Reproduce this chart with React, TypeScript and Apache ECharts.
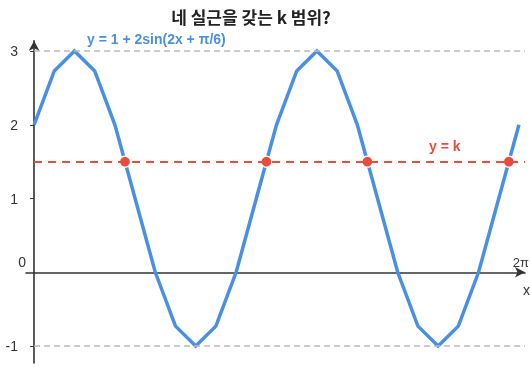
import React, { useEffect, useRef } from "react";
import * as echarts from "echarts";

// y = 1 + 2sin(2x + π/6), sampled every π/12 over [0, 2π] (x index 0..24, 24 = 2π)
const curveValues = [
  2, 2.73, 3, 2.73, 2, 1, 0, -0.73, -1, -0.73, 0, 1,
  2, 2.73, 3, 2.73, 2, 1, 0, -0.73, -1, -0.73, 0, 1, 2,
];
// horizontal line y = k and its crossings with the curve (x index)
const kValue = 1.5;
const crossingsX = [4.5, 11.5, 16.5, 23.5];
// range bounds of the curve
const boundValues = [3, -1];
// y axis tick labels
const yTickLabels = [-1, 1, 2, 3];

const BLUE = "#4a90e2";
const RED = "#e74c3c";
const AXIS = "#333";
const LABEL_FONT = "Liberation Sans, Arial, sans-serif";

export default function App() {
  const ref = useRef<HTMLDivElement>(null);

  useEffect(() => {
    if (!ref.current) return;
    const chart = echarts.init(ref.current, null, { renderer: "svg" });
    const xMin = -0.4;
    const xMax = 24.3;

    chart.setOption({
      animation: false,
      grid: { left: 26, right: 5, top: 40.7, bottom: 4, containLabel: false },
      xAxis: {
        type: "value",
        min: xMin,
        max: xMax,
        axisLine: {
          onZero: true,
          symbol: ["none", "arrow"],
          symbolSize: [8, 10],
          lineStyle: { color: AXIS, width: 1.6 },
        },
        axisTick: { show: false },
        axisLabel: { show: false },
        splitLine: { show: false },
      },
      yAxis: {
        type: "value",
        min: -1.23,
        max: 3.14,
        axisLine: {
          onZero: true,
          symbol: ["none", "arrow"],
          symbolSize: [8, 10],
          lineStyle: { color: AXIS, width: 1.6 },
        },
        axisTick: {
          show: true,
          length: 4,
          customValues: yTickLabels,
          lineStyle: { color: AXIS, width: 1 },
        },
        axisLabel: {
          show: true,
          customValues: yTickLabels,
          margin: 8,
          color: AXIS,
          fontSize: 14,
          fontFamily: LABEL_FONT,
        },
        splitLine: { show: false },
      },
      series: [
        {
          // dashed guides for the curve's max and min
          type: "line",
          data: [],
          silent: true,
          z: 1,
          markLine: {
            silent: true,
            symbol: "none",
            label: { show: false },
            lineStyle: { color: "#bbb", type: [6, 4], width: 1.5 },
            data: boundValues.map((v) => [
              { coord: [0, v] },
              { coord: [xMax, v] },
            ]),
          },
        },
        {
          // y = k
          type: "line",
          data: [],
          silent: true,
          z: 2,
          markLine: {
            silent: true,
            symbol: "none",
            label: { show: false },
            lineStyle: { color: RED, type: [8, 6], width: 2 },
            data: [[{ coord: [0, kValue] }, { coord: [xMax, kValue] }]],
          },
        },
        {
          type: "line",
          data: curveValues.map((v, i) => [i, v]),
          showSymbol: false,
          z: 3,
          lineStyle: { color: BLUE, width: 3.5, join: "miter" },
        },
        {
          type: "scatter",
          data: crossingsX.map((x) => [x, kValue]),
          symbolSize: 11,
          z: 4,
          itemStyle: { color: RED, borderColor: "#fff", borderWidth: 1.2, opacity: 1 },
        },
      ],
      graphic: [
        {
          type: "text",
          x: 251,
          y: 16,
          style: {
            text: "네 실근을 갖는 k 범위?",
            font: "bold 17px 'Noto Sans CJK KR', sans-serif",
            fill: "#222",
            textAlign: "center",
            textVerticalAlign: "middle",
          },
        },
        {
          type: "text",
          x: 87,
          y: 39,
          style: {
            text: "y = 1 + 2sin(2x + π/6)",
            font: `bold 14px ${LABEL_FONT}`,
            fill: BLUE,
            textAlign: "left",
            textVerticalAlign: "middle",
          },
        },
        {
          type: "text",
          x: 429,
          y: 146,
          style: {
            text: "y = k",
            font: `bold 14px ${LABEL_FONT}`,
            fill: RED,
            textAlign: "left",
            textVerticalAlign: "middle",
          },
        },
        {
          type: "text",
          x: 26,
          y: 262,
          style: {
            text: "0",
            font: `14px ${LABEL_FONT}`,
            fill: AXIS,
            textAlign: "right",
            textVerticalAlign: "middle",
          },
        },
        {
          type: "text",
          x: 529,
          y: 262,
          style: {
            text: "2π",
            font: `13px ${LABEL_FONT}`,
            fill: AXIS,
            textAlign: "right",
            textVerticalAlign: "middle",
          },
        },
        {
          type: "text",
          x: 523,
          y: 290,
          style: {
            text: "x",
            font: `14px ${LABEL_FONT}`,
            fill: AXIS,
            textAlign: "left",
            textVerticalAlign: "middle",
          },
        },
      ],
    });

    return () => chart.dispose();
  }, []);

  return (
    <div
      ref={ref}
      style={{ position: "fixed", left: 0, top: 0, width: 530, height: 367 }}
    />
  );
}
